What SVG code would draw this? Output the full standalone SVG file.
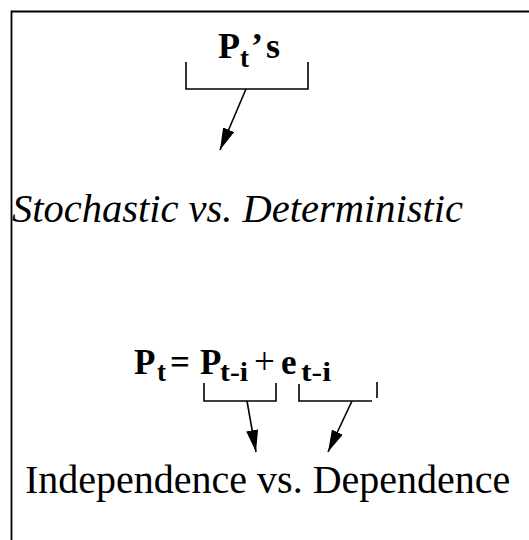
<svg xmlns="http://www.w3.org/2000/svg" width="529" height="540" viewBox="0 0 529 540">
<style>
.ln{fill:none;stroke:#000;stroke-width:1.8}
.br{fill:none;stroke:#000;stroke-width:1.6}
.ar{fill:none;stroke:#000;stroke-width:1.6}
.b{font-family:"Liberation Serif","Times New Roman",serif;font-weight:bold;fill:#000}
.r{font-family:"Liberation Serif","Times New Roman",serif;fill:#000}
.i{font-family:"Liberation Serif","Times New Roman",serif;font-style:italic;fill:#000}
</style>
<defs>
<marker id="ah" viewBox="0 0 22 12" refX="22" refY="6" markerWidth="22" markerHeight="12" markerUnits="userSpaceOnUse" orient="auto">
<path d="M0,0 L22,6 L0,12 Z" fill="#000"/>
</marker>
</defs>
<rect width="529" height="540" fill="#fff"/>
<path class="ln" d="M11.5,540 V11.5 H529"/>
<g id="title">
<text class="b" x="218" y="58" font-size="36">P</text>
<text class="b" x="240" y="67" font-size="27">t</text>
<text class="b" x="251" y="58" font-size="36">’</text>
<text class="b" x="266" y="58" font-size="36">s</text>
</g>
<g id="stochastic">
<text class="i" x="12" y="222" font-size="40" textLength="451" lengthAdjust="spacingAndGlyphs">Stochastic vs. Deterministic</text>
</g>
<g id="equation">
<text class="b" x="134" y="374" font-size="35">P</text>
<text class="b" x="157" y="381" font-size="27">t</text>
<text class="b" x="170" y="374" font-size="35">=</text>
<text class="b" x="200" y="374" font-size="35">P</text>
<text class="b" x="220" y="381" font-size="27" textLength="28" lengthAdjust="spacingAndGlyphs">t-i</text>
<text class="r" x="254" y="374" font-size="37">+</text>
<text class="b" x="281" y="374" font-size="35">e</text>
<text class="b" x="301" y="381" font-size="27" textLength="30" lengthAdjust="spacingAndGlyphs">t-i</text>
</g>
<g id="independence">
<text class="r" x="25" y="493" font-size="40">Independence vs. Dependence</text>
</g>
<g id="connectors">
<path class="br" d="M186,62 V89 H308 V62"/>
<path class="br" d="M204,383 V401 H276 V383"/>
<path class="br" d="M299,384 V401 H372"/>
<path class="br" d="M377,382 V398"/>
<line class="ar" x1="246" y1="89" x2="220" y2="150" marker-end="url(#ah)"/>
<line class="ar" x1="247" y1="401" x2="256" y2="452" marker-end="url(#ah)"/>
<line class="ar" x1="352" y1="401" x2="328" y2="452" marker-end="url(#ah)"/>
</g>
</svg>
